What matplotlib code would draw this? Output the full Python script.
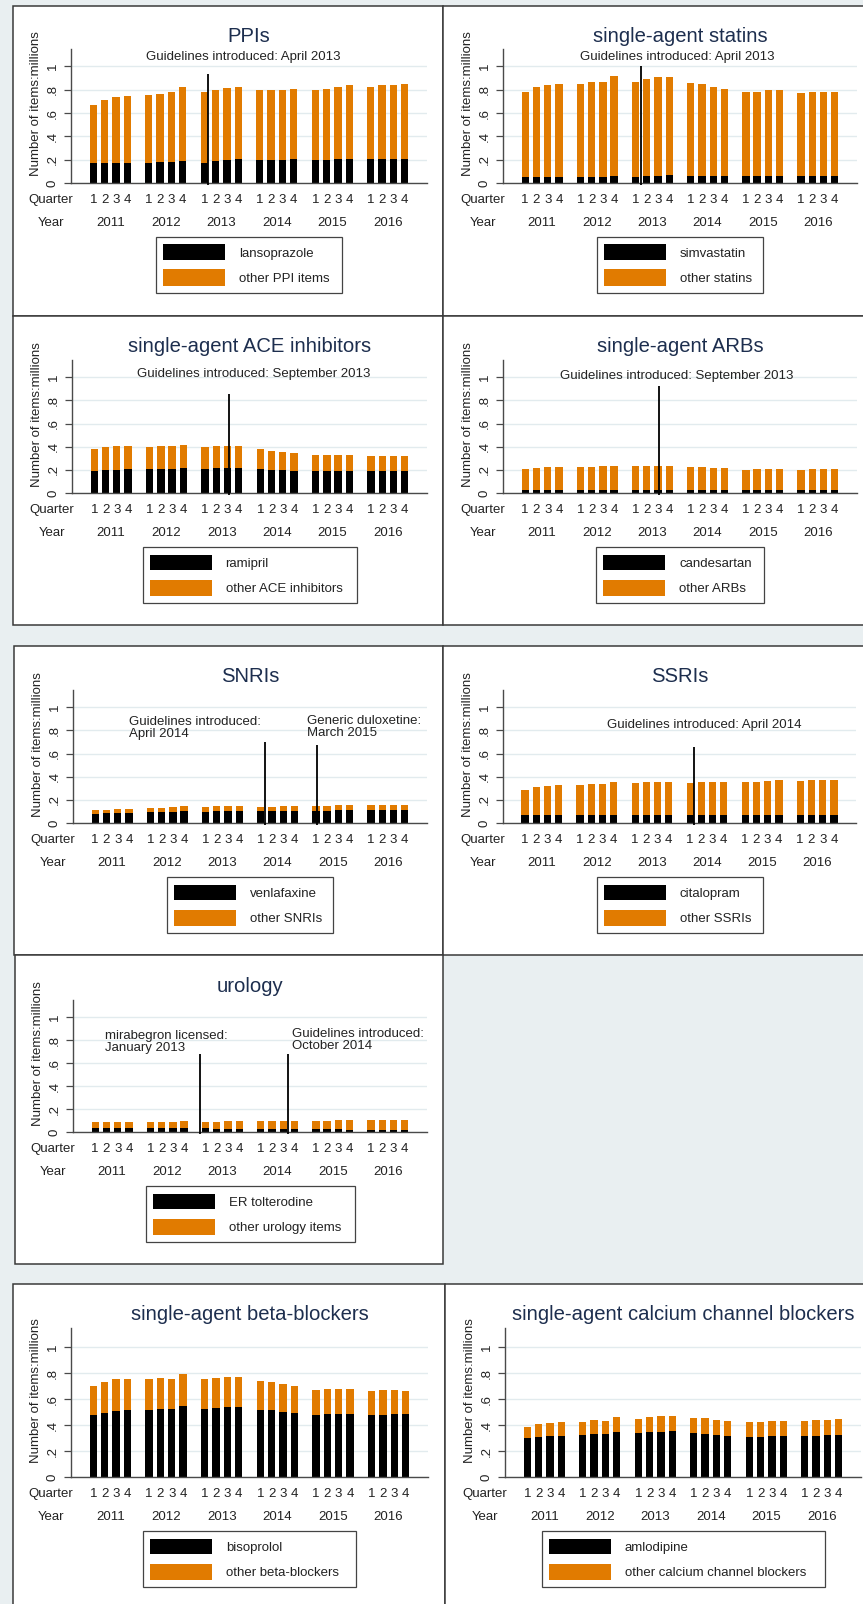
import numpy as np
import matplotlib
matplotlib.use("Agg")
import matplotlib.pyplot as plt
from matplotlib.patches import Rectangle

plt.rcParams['font.family'] = ['Liberation Sans', 'DejaVu Sans']

# ---------------------------------------------------------------- data
years = ['2011', '2012', '2013', '2014', '2015', '2016']
quarters = ['1', '2', '3', '4']
yticks = [0, 0.2, 0.4, 0.6, 0.8, 1.0]
ytick_labels = ['0', '.2', '.4', '.6', '.8', '1']

ppi_total = [0.673, 0.711, 0.742, 0.748, 0.754, 0.768, 0.777, 0.820,
             0.777, 0.800, 0.814, 0.820, 0.794, 0.794, 0.800, 0.805,
             0.794, 0.805, 0.820, 0.837, 0.820, 0.837, 0.842, 0.851]
lansoprazole = [0.169, 0.175, 0.175, 0.175, 0.175, 0.183, 0.183, 0.189,
                0.175, 0.189, 0.198, 0.203, 0.198, 0.198, 0.198, 0.203,
                0.198, 0.198, 0.203, 0.203, 0.203, 0.203, 0.203, 0.203]

statin_total = [0.785, 0.822, 0.845, 0.851, 0.851, 0.871, 0.871, 0.917,
                0.871, 0.894, 0.908, 0.908, 0.860, 0.851, 0.828, 0.808,
                0.779, 0.779, 0.794, 0.794, 0.771, 0.779, 0.785, 0.785]
simvastatin = [0.052, 0.052, 0.052, 0.052, 0.052, 0.052, 0.052, 0.058,
               0.052, 0.058, 0.060, 0.066, 0.060, 0.060, 0.060, 0.060,
               0.058, 0.058, 0.058, 0.058, 0.058, 0.058, 0.058, 0.058]

ace_total = [0.380, 0.394, 0.403, 0.403, 0.394, 0.403, 0.403, 0.417,
             0.394, 0.403, 0.403, 0.403, 0.380, 0.366, 0.357, 0.346,
             0.331, 0.331, 0.331, 0.331, 0.317, 0.323, 0.323, 0.317]
ramipril = [0.194, 0.200, 0.200, 0.206, 0.206, 0.206, 0.206, 0.214,
            0.206, 0.214, 0.214, 0.214, 0.206, 0.200, 0.200, 0.194,
            0.186, 0.186, 0.186, 0.186, 0.186, 0.186, 0.186, 0.186]

arb_total = [0.206, 0.214, 0.223, 0.223, 0.223, 0.223, 0.231, 0.237,
             0.231, 0.231, 0.237, 0.237, 0.223, 0.223, 0.214, 0.214,
             0.200, 0.206, 0.206, 0.206, 0.200, 0.206, 0.206, 0.206]
candesartan = [0.023, 0.023, 0.023, 0.023, 0.023, 0.023, 0.023, 0.023,
               0.023, 0.023, 0.023, 0.023, 0.023, 0.023, 0.023, 0.023,
               0.023, 0.023, 0.023, 0.023, 0.023, 0.023, 0.023, 0.023]

snri_total = [0.109, 0.115, 0.124, 0.124, 0.129, 0.129, 0.138, 0.144,
              0.138, 0.144, 0.144, 0.144, 0.138, 0.138, 0.144, 0.144,
              0.144, 0.144, 0.152, 0.152, 0.152, 0.152, 0.152, 0.152]
venlafaxine = [0.080, 0.086, 0.089, 0.089, 0.095, 0.095, 0.095, 0.100,
               0.095, 0.100, 0.100, 0.100, 0.100, 0.100, 0.100, 0.100,
               0.100, 0.100, 0.109, 0.109, 0.109, 0.109, 0.109, 0.109]

ssri_total = [0.287, 0.307, 0.322, 0.330, 0.330, 0.336, 0.336, 0.353,
              0.345, 0.351, 0.353, 0.353, 0.345, 0.351, 0.351, 0.353,
              0.351, 0.353, 0.362, 0.368, 0.362, 0.368, 0.376, 0.376]
citalopram = [0.072, 0.072, 0.072, 0.072, 0.072, 0.072, 0.072, 0.072,
              0.072, 0.072, 0.072, 0.072, 0.066, 0.066, 0.066, 0.066,
              0.066, 0.066, 0.066, 0.066, 0.066, 0.066, 0.066, 0.066]

uro_total = [0.083, 0.083, 0.083, 0.089, 0.089, 0.089, 0.089, 0.098,
             0.089, 0.089, 0.098, 0.098, 0.098, 0.098, 0.098, 0.098,
             0.098, 0.098, 0.106, 0.106, 0.106, 0.106, 0.106, 0.106]
er_tolterodine = [0.034, 0.034, 0.034, 0.034, 0.034, 0.034, 0.034, 0.032,
                  0.032, 0.030, 0.026, 0.026, 0.026, 0.024, 0.024, 0.022,
                  0.022, 0.022, 0.022, 0.020, 0.020, 0.020, 0.018, 0.018]

beta_total = [0.706, 0.732, 0.754, 0.754, 0.754, 0.767, 0.759, 0.792,
              0.754, 0.767, 0.772, 0.772, 0.742, 0.732, 0.714, 0.701,
              0.668, 0.676, 0.681, 0.681, 0.661, 0.668, 0.668, 0.661]
bisoprolol = [0.476, 0.496, 0.509, 0.514, 0.514, 0.522, 0.522, 0.549,
              0.522, 0.534, 0.542, 0.542, 0.514, 0.514, 0.501, 0.496,
              0.476, 0.484, 0.484, 0.489, 0.476, 0.476, 0.484, 0.484]

ccb_total = [0.387, 0.408, 0.418, 0.423, 0.428, 0.443, 0.435, 0.461,
             0.451, 0.461, 0.471, 0.471, 0.458, 0.456, 0.443, 0.435,
             0.423, 0.428, 0.435, 0.435, 0.435, 0.443, 0.443, 0.451]
amlodipine = [0.299, 0.311, 0.319, 0.319, 0.327, 0.332, 0.332, 0.344,
              0.339, 0.344, 0.344, 0.352, 0.339, 0.332, 0.327, 0.319,
              0.311, 0.311, 0.319, 0.319, 0.319, 0.319, 0.327, 0.327]

# event markers: (x position on the bar scale, top of line)
ppi_events = [(10.15, 0.937)]
statin_events = [(10.3, 1.0)]
ace_events = [(11.9, 0.86)]
arb_events = [(11.9, 0.923)]
snri_events = [(15.09, 0.70), (19.74, 0.674)]
ssri_events = [(15.05, 0.66)]
uro_events = [(9.33, 0.683), (17.1, 0.683)]

# event notes: (x, y, text, alignment)
ppi_notes = [(13.24, 1.10, 'Guidelines introduced: April 2013', 'center')]
statin_notes = [(13.5, 1.10, 'Guidelines introduced: April 2013', 'center')]
ace_notes = [(14.1, 1.045, 'Guidelines introduced: September 2013', 'center')]
arb_notes = [(13.5, 1.03, 'Guidelines introduced: September 2013', 'center')]
snri_notes = [(3.0, 0.884, 'Guidelines introduced:', 'left'),
              (3.0, 0.784, 'April 2014', 'left'),
              (18.8, 0.899, 'Generic duloxetine:', 'left'),
              (18.8, 0.790, 'March 2015', 'left')]
ssri_notes = [(15.94, 0.86, 'Guidelines introduced: April 2014', 'center')]
uro_notes = [(0.85, 0.852, 'mirabegron licensed:', 'left'),
             (0.85, 0.743, 'January 2013', 'left'),
             (17.46, 0.872, 'Guidelines introduced:', 'left'),
             (17.46, 0.760, 'October 2014', 'left')]

# ---------------------------------------------------------------- style
W, H, DPI = 863, 1604, 100
PT = 72.0 / DPI            # points per pixel
ORANGE = '#e17b00'
TITLE_C = '#1d2e4e'
TEXT_C = '#222222'
AXIS_C = '#4a4a4a'
GRID_C = '#e2ebee'
BG = '#e9eff1'
FRAME_C = '#3a3a3a'
FS = 9.5

GROUP_STEP = 4.9
xpos = np.array([yi * GROUP_STEP + qi for yi in range(len(years))
                 for qi in range(len(quarters))])
year_centres = np.array([yi * GROUP_STEP + 1.5 for yi in range(len(years))])
XLIM = (-1.97, xpos[-1] + 1.97)

fig = plt.figure(figsize=(W / DPI, H / DPI), dpi=DPI, facecolor=BG)


def fx(px):
    return px / W


def fy(py):
    return 1 - py / H


def frame(x0, y0, x1, y1):
    fig.add_artist(Rectangle((fx(x0), fy(y1)), fx(x1) - fx(x0), fy(y0) - fy(y1),
                             transform=fig.transFigure, facecolor='white',
                             edgecolor=FRAME_C, lw=1.1, zorder=0))


def legend_box(cx, top, width, labels):
    left = cx - width / 2
    fig.add_artist(Rectangle((fx(left), fy(top + 56)), fx(width), 56 / H,
                             transform=fig.transFigure, facecolor='white',
                             edgecolor='#444444', lw=0.9, zorder=1))
    for (s0, s1), colour, lab in zip([(7.5, 22.5), (32.5, 48.5)],
                                     ['black', ORANGE], labels):
        fig.add_artist(Rectangle((fx(left + 7), fy(top + s1)), fx(62), (s1 - s0) / H,
                                 transform=fig.transFigure, facecolor=colour,
                                 edgecolor='none', zorder=2))
        fig.text(fx(left + 83), fy(top + (s0 + s1) / 2 + 5), lab,
                 fontsize=FS, color=TEXT_C, ha='left', va='baseline')


def draw_panel(box, title, molecule, total, labels, legend_w,
               events=(), notes=()):
    l, r, t, b = box
    ax = fig.add_axes([fx(l), fy(b), fx(r) - fx(l), fy(t) - fy(b)])
    ax.set_facecolor('none')
    molecule = np.asarray(molecule)
    other = np.asarray(total) - molecule
    ax.bar(xpos, molecule, width=0.65, color='black', zorder=2, linewidth=0)
    ax.bar(xpos, other, bottom=molecule, width=0.65, color=ORANGE,
           zorder=2, linewidth=0)
    ax.set_xlim(*XLIM)
    ax.set_ylim(0, 1.15)

    for side in ('top', 'right'):
        ax.spines[side].set_visible(False)
    for side in ('left', 'bottom'):
        ax.spines[side].set_color(AXIS_C)
        ax.spines[side].set_linewidth(1.0)

    ax.set_yticks(yticks, ytick_labels, rotation=90, ha='center', va='center')
    ax.tick_params(axis='y', length=7 * PT, width=0.9, color=AXIS_C,
                   pad=11.5 * PT, labelsize=FS, labelcolor=TEXT_C)
    ax.yaxis.grid(True, color=GRID_C, lw=1.0, zorder=0)
    ax.set_xticks([])

    bx = ('data', 'axes fraction')
    for x, q in zip(xpos, quarters * len(years)):
        ax.annotate(q, xy=(x, 0), xycoords=bx, xytext=(0, -20 * PT),
                    textcoords='offset points', ha='center', va='baseline',
                    fontsize=FS, color=TEXT_C, annotation_clip=False)
    for x, yr in zip(year_centres, years):
        ax.annotate(yr, xy=(x, 0), xycoords=bx, xytext=(0, -42.7 * PT),
                    textcoords='offset points', ha='center', va='baseline',
                    fontsize=FS, color=TEXT_C, annotation_clip=False)
    for lab, dy in (('Quarter', -20), ('Year', -42.7)):
        ax.annotate(lab, xy=(0, 0), xycoords='axes fraction',
                    xytext=(-20 * PT, dy * PT), textcoords='offset points',
                    ha='center', va='baseline', fontsize=FS, color=TEXT_C,
                    annotation_clip=False)

    ax.annotate('Number of items:millions', xy=(0, 0.5),
                xycoords='axes fraction', xytext=(-35 * PT, 12 * PT),
                textcoords='offset points', rotation=90, ha='center',
                va='center', fontsize=FS, color=TEXT_C, annotation_clip=False)
    ax.annotate(title, xy=(0.5, 1), xycoords='axes fraction',
                xytext=(0, 7.5 * PT), textcoords='offset points',
                ha='center', va='baseline', fontsize=14.6, color=TITLE_C,
                annotation_clip=False)

    for x, top in events:
        ax.vlines(x, -0.015, top, color='black', lw=1.3, zorder=3,
                  clip_on=False)
    for x, y, s, ha in notes:
        ax.annotate(s, xy=(x, y), xycoords='data', xytext=(0, -4.7 * PT),
                    textcoords='offset points', ha=ha, va='baseline',
                    fontsize=FS, color=TEXT_C, annotation_clip=False)

    legend_box((l + r) / 2, b + 54, legend_w, labels)


# panel frames
frame(13, 6, 443, 316)
frame(443, 6, 880, 316)
frame(13, 316, 443, 625)
frame(443, 316, 880, 625)
frame(14, 646, 443, 955)
frame(443, 646, 880, 955)
frame(15, 955, 443, 1264)
frame(13, 1284, 445, 1620)
frame(445, 1284, 880, 1620)

draw_panel((71, 427, 49, 183), 'PPIs', lansoprazole, ppi_total,
           ['lansoprazole', 'other PPI items'], 186, ppi_events, ppi_notes)
draw_panel((503, 857, 49, 183), 'single-agent statins', simvastatin,
           statin_total, ['simvastatin', 'other statins'], 166,
           statin_events, statin_notes)
draw_panel((72, 427, 360, 493), 'single-agent ACE inhibitors', ramipril,
           ace_total, ['ramipril', 'other ACE inhibitors'], 214,
           ace_events, ace_notes)
draw_panel((503, 857, 360, 493), 'single-agent ARBs', candesartan, arb_total,
           ['candesartan', 'other ARBs'], 168, arb_events, arb_notes)
draw_panel((73, 427, 690, 823), 'SNRIs', venlafaxine, snri_total,
           ['venlafaxine', 'other SNRIs'], 166, snri_events, snri_notes)
draw_panel((503, 856, 690, 823), 'SSRIs', citalopram, ssri_total,
           ['citalopram', 'other SSRIs'], 166, ssri_events, ssri_notes)
draw_panel((73, 427, 1000, 1132), 'urology', er_tolterodine, uro_total,
           ['ER tolterodine', 'other urology items'], 209,
           uro_events, uro_notes)
draw_panel((71, 428, 1328, 1477), 'single-agent beta-blockers', bisoprolol,
           beta_total, ['bisoprolol', 'other beta-blockers'], 213)
draw_panel((505, 861, 1328, 1477), 'single-agent calcium channel blockers',
           amlodipine, ccb_total,
           ['amlodipine', 'other calcium channel blockers'], 283)

fig.savefig('out.png', dpi=DPI, facecolor=BG)
